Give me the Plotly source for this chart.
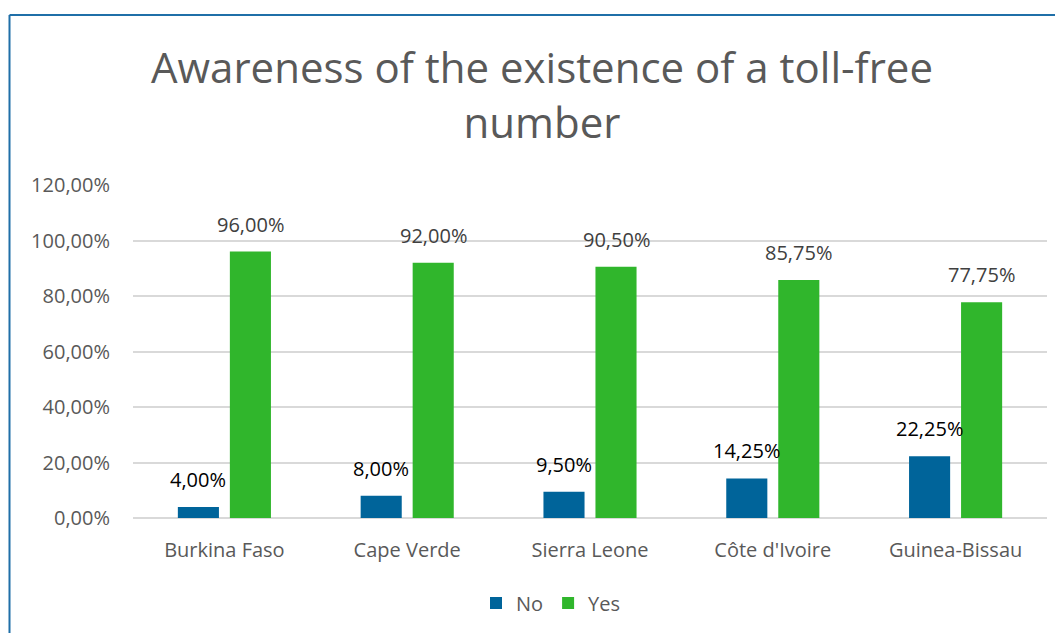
import plotly.graph_objects as go

categories = ["Burkina Faso", "Cape Verde", "Sierra Leone", "Côte d'Ivoire", "Guinea-Bissau"]
no_values = [4.00, 8.00, 9.50, 14.25, 22.25]
yes_values = [96.00, 92.00, 90.50, 85.75, 77.75]
series_names = ["No", "Yes"]
title_text = "Awareness of the existence of a toll-free<br>number"

NO_COLOR = "#00649A"
YES_COLOR = "#30B62C"
FONT = "Open Sans"

# page body has an 8px margin; compensate so the figure lines up with the window
OFF = 8
W, H = 1063 - OFF, 633 - OFF
L, R, T, B = 133 - OFF, 16, 185 - OFF, 114
pw, ph = W - L - R, H - T - B

def fmt(v):
    return f"{v:.2f}%".replace(".", ",")

fig = go.Figure()
fig.add_trace(go.Bar(x=categories, y=no_values, name=series_names[0],
                     marker=dict(color=NO_COLOR, line=dict(width=0))))
fig.add_trace(go.Bar(x=categories, y=yes_values, name=series_names[1],
                     marker=dict(color=YES_COLOR, line=dict(width=0))))

annotations = []
for c, v in zip(categories, no_values):
    annotations.append(dict(x=c, y=v, xref="x", yref="y", text=fmt(v), showarrow=False,
                            xshift=-26, yshift=12, yanchor="bottom",
                            font=dict(family=FONT, size=20, color="#000000")))
for c, v in zip(categories, yes_values):
    annotations.append(dict(x=c, y=v, xref="x", yref="y", text=fmt(v), showarrow=False,
                            xshift=26, yshift=12, yanchor="bottom",
                            font=dict(family=FONT, size=20, color="#404040")))

# chart border (left and top visible)
bx = 9.5 - OFF
by = 14.5 - OFF
x0 = (bx - L) / pw
y0 = (H - B - by) / ph
shapes = [
    dict(type="line", xref="paper", yref="paper", x0=x0, x1=x0, y0=y0, y1=-0.5,
         line=dict(color="#1F6FA8", width=2)),
    dict(type="line", xref="paper", yref="paper", x0=x0, x1=1.2, y0=y0, y1=y0,
         line=dict(color="#1F6FA8", width=2)),
]

fig.update_layout(
    width=W, height=H,
    margin=dict(l=L, r=R, t=T, b=B),
    paper_bgcolor="white", plot_bgcolor="white",
    separators=",.",
    barmode="group", bargap=0.431, bargroupgap=0.21,
    title=dict(text=title_text, x=(542 - OFF) / W, xanchor="center",
               y=1 - (83 - OFF) / H, yanchor="middle",
               font=dict(family=FONT, size=42, color="#595959")),
    legend=dict(orientation="h", x=(551 - OFF - L) / pw, xanchor="center",
                y=(H - B - (603 - OFF)) / ph, yanchor="middle",
                font=dict(family=FONT, size=20, color="#595959"),
                itemwidth=30, traceorder="normal"),
    xaxis=dict(showgrid=False, showline=False, ticks="", ticklabelstandoff=18,
               tickfont=dict(family=FONT, size=20, color="#595959")),
    yaxis=dict(range=[0, 120], dtick=20, tickformat=".2f", ticksuffix="%",
               showgrid=True, gridcolor="#D9D9D9", gridwidth=1.5,
               zeroline=True, zerolinecolor="#D9D9D9", zerolinewidth=1.5,
               showline=False, ticks="", ticklabelstandoff=22,
               tickfont=dict(family=FONT, size=20, color="#595959")),
    annotations=annotations,
    shapes=shapes,
)

fig.write_html("out.html")
